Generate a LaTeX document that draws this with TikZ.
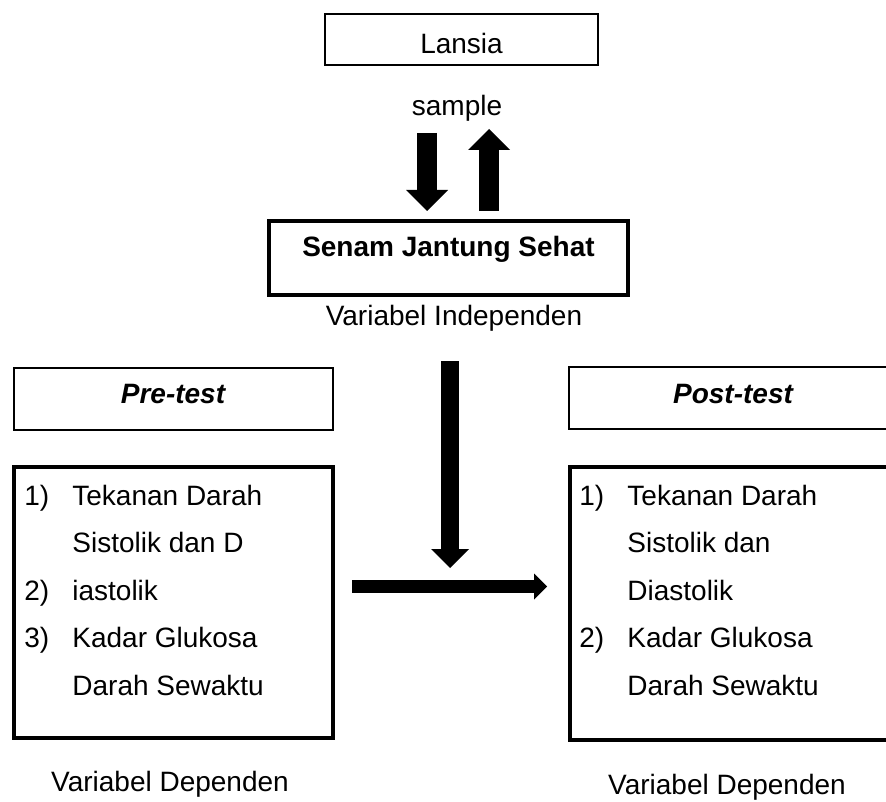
\documentclass[tikz,border=0pt]{standalone}
\usepackage{fontspec}
\setmainfont{Liberation Sans}
\usetikzlibrary{arrows.meta}

\begin{document}
\begin{tikzpicture}[
    x=0.5pt, y=-0.5pt,
    every node/.style={font=\fontsize{14}{17}\selectfont},
    thinbox/.style={rectangle, draw, line width=0.6pt, inner sep=0pt},
    thickbox/.style={rectangle, draw, line width=2pt, inner sep=0pt},
    caption/.style={inner sep=0pt, anchor=base},
    listtext/.style={inner sep=0pt, anchor=base west,
        font=\fontsize{14}{23.75}\selectfont},
    smallarrow/.style={draw, line width=10pt,
        -{Triangle[width=21pt, length=10.5pt, line width=0pt]}},
    bigarrow/.style={draw, line width=9pt,
        -{Triangle[width=19pt, length=9.5pt, line width=0pt]}},
    flatarrow/.style={draw, line width=6.5pt,
        -{Triangle[width=13pt, length=6.5pt, line width=0pt]}}
]
\useasboundingbox (0,0) rectangle (886,801);
\clip (0,0) rectangle (886,801);

% top part
\node (Lansia) [thinbox, minimum width=136.5pt, minimum height=25.5pt,
    text height=14.5pt, text depth=0pt] at (461.5,39.5) {Lansia};
\node (Sample) [caption] at (457,116) {sample};
\node (Senam) [thickbox, minimum width=179.5pt, minimum height=37pt,
    text height=10pt, text depth=11pt] at (448.5,258) {\textbf{Senam Jantung Sehat}};
\node (Indep) [caption] at (454,326) {Variabel Independen};

% pre and post test
\node (Pre) [thinbox, minimum width=159.5pt, minimum height=31pt,
    text height=10pt, text depth=6pt] at (173.5,399) {\textbf{\textit{Pre-test}}};
\node (Post) [thinbox, minimum width=164.5pt, minimum height=31pt,
    text height=10pt, text depth=5pt] at (733.5,398) {\textbf{\textit{Post-test}}};
\node (PreBox) [thickbox, minimum width=159.5pt, minimum height=135.5pt] at (173.5,602.5) {};
\node (PostBox) [thickbox, minimum width=164pt, minimum height=136.5pt] at (734,603.5) {};

\node (PreList) [listtext] at (24,505) {%
  \begin{tabular}[t]{@{}p{24pt}@{}l@{}}
  1) & Tekanan Darah\\
     & Sistolik dan D\\
  2) & iastolik\\
  3) & Kadar Glukosa\\
     & Darah Sewaktu
  \end{tabular}};
\node (PostList) [listtext] at (579,505) {%
  \begin{tabular}[t]{@{}p{24pt}@{}l@{}}
  1) & Tekanan Darah\\
     & Sistolik dan\\
     & Diastolik\\
  2) & Kadar Glukosa\\
     & Darah Sewaktu
  \end{tabular}};

\node (DepLeft) [caption] at (170,791) {Variabel Dependen};
\node (DepRight) [caption] at (727,794) {Variabel Dependen};

% arrows
\coordinate (DownStart) at (427,133);
\coordinate (DownEnd) at (427,211);
\coordinate (UpStart) at (489,211);
\coordinate (UpEnd) at (489,129);
\coordinate (MidStart) at (450,361);
\coordinate (MidEnd) at (450,568);
\coordinate (FlowStart) at (352,586.5);
\coordinate (FlowEnd) at (547,586.5);

\draw[smallarrow] (DownStart) -- (DownEnd);
\draw[smallarrow] (UpStart) -- (UpEnd);
\draw[bigarrow] (MidStart) -- (MidEnd);
\draw[flatarrow] (FlowStart) -- (FlowEnd);
\end{tikzpicture}
\end{document}
